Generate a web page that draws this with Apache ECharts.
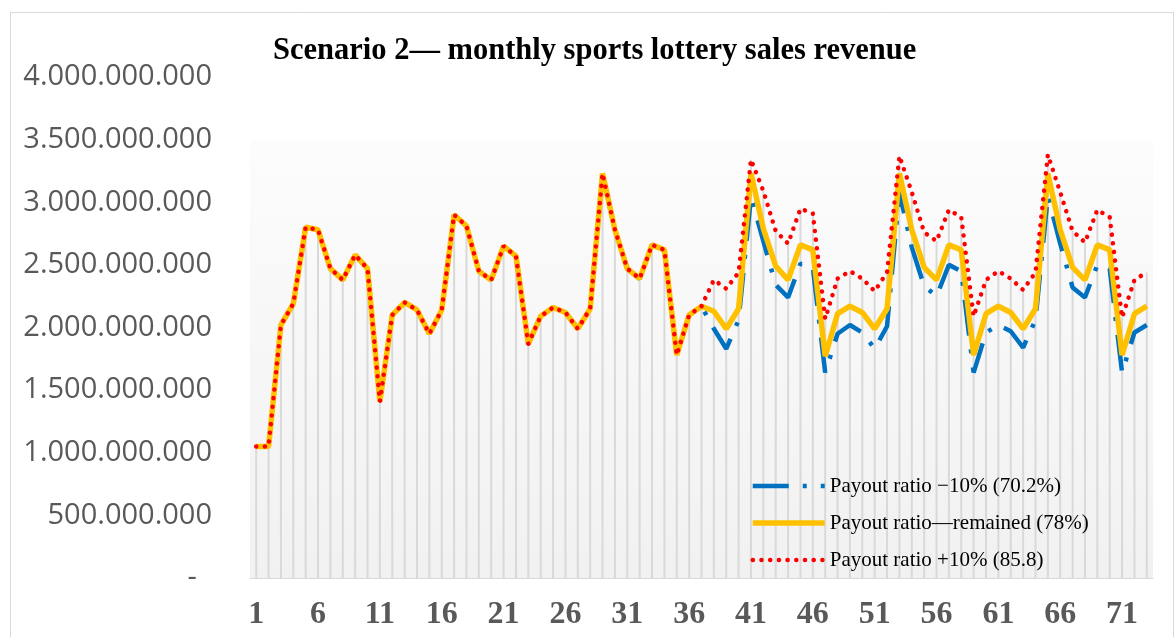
<!DOCTYPE html>
<html>
<head>
<meta charset="utf-8">
<title>Scenario 2 sales revenue</title>
<script src="https://cdn.jsdelivr.net/npm/echarts@6/dist/echarts.min.js"></script>
<style>
  html, body { margin: 0; padding: 0; background: #fff; }
  #chart { width: 1174px; height: 637px; }
</style>
</head>
<body>
<div id="chart"></div>
<script>
// month index 1..73
const months = Array.from({ length: 73 }, (_, i) => String(i + 1))

// values in billions; months 1-37 are shared by all three scenarios
const history = [1.05, 1.05, 2.02, 2.19, 2.80, 2.78, 2.47, 2.38, 2.58, 2.47,
  1.41, 2.10, 2.20, 2.14, 1.95, 2.14, 2.90, 2.81, 2.45, 2.38,
  2.65, 2.57, 1.87, 2.09, 2.16, 2.12, 1.99, 2.15, 3.23, 2.78,
  2.47, 2.39, 2.66, 2.62, 1.78, 2.10, 2.17]

// months 38-73
const ratioDown = [1.99, 1.83, 2.06, 3.04, 2.69, 2.34, 2.24, 2.51, 2.48, 1.64,
  1.95, 2.02, 1.96, 1.83, 2.01, 3.08, 2.64, 2.33, 2.25, 2.50,
  2.45, 1.64, 1.96, 2.02, 1.97, 1.84, 2.06, 3.05, 2.67, 2.32,
  2.24, 2.50, 2.47, 1.64, 1.96, 2.02]
const ratioSame = [2.13, 1.99, 2.15, 3.23, 2.79, 2.49, 2.38, 2.66, 2.62, 1.77,
  2.11, 2.17, 2.12, 1.99, 2.15, 3.23, 2.78, 2.48, 2.38, 2.66,
  2.62, 1.78, 2.11, 2.17, 2.12, 1.99, 2.15, 3.23, 2.78, 2.48,
  2.38, 2.66, 2.62, 1.78, 2.11, 2.17]
const ratioUp = [2.38, 2.31, 2.44, 3.34, 3.09, 2.77, 2.67, 2.95, 2.91, 2.07,
  2.39, 2.45, 2.39, 2.29, 2.44, 3.37, 3.08, 2.76, 2.69, 2.94,
  2.88, 2.09, 2.38, 2.45, 2.39, 2.30, 2.44, 3.38, 3.08, 2.77,
  2.68, 2.94, 2.88, 2.08, 2.38, 2.44]

const names = [
  'Payout ratio \u221210% (70.2%)',
  'Payout ratio\u2014remained (78%)',
  'Payout ratio +10% (85.8)'
]

const blueLine = { color: '#0070C0', width: 4.5, type: [36, 14, 4, 14], cap: 'butt' }
const yellowLine = { color: '#FFC000', width: 5.5, type: 'solid' }
const redLine = { color: '#FF0000', width: 4.5, type: [0.1, 8.6], cap: 'round' }

const chart = echarts.init(document.getElementById('chart'))

const fmtY = v => {
  if (v === 0) return '-  '
  return String(Math.round(v * 1e9)).replace(/\B(?=(\d{3})+(?!\d))/g, '.')
}

const option = {
  backgroundColor: '#fff',
  animation: false,
  title: {
    text: 'Scenario 2\u2014 monthly sports lottery sales revenue',
    left: 268,
    top: 31,
    textStyle: {
      fontFamily: 'Liberation Serif',
      fontWeight: 'bold',
      fontSize: 30.5,
      color: '#000'
    }
  },
  graphic: [{
    type: 'rect',
    left: 8,
    top: 10,
    shape: { width: 1163, height: 640 },
    style: { fill: 'none', stroke: '#d9d9d9', lineWidth: 1 },
    silent: true,
    z: -1
  }],
  legend: {
    data: [
      { name: names[0], itemStyle: { opacity: 0 }, lineStyle: blueLine },
      { name: names[1], itemStyle: { opacity: 0 }, lineStyle: yellowLine },
      { name: names[2], itemStyle: { opacity: 0 }, lineStyle: redLine }
    ],
    orient: 'vertical',
    left: 745,
    top: 470,
    itemWidth: 72,
    itemHeight: 14,
    itemGap: 15,
    textStyle: {
      fontFamily: 'Liberation Serif',
      fontSize: 21,
      color: '#000',
      lineHeight: 22
    }
  },
  grid: {
    left: 250,
    right: 21,
    top: 77,
    bottom: 59,
    show: true,
    borderWidth: 0,
    outerBoundsMode: 'none',
    backgroundColor: new echarts.graphic.LinearGradient(0, 0, 0, 1, [
      { offset: 0, color: '#ffffff' },
      { offset: 0.125, color: '#ffffff' },
      { offset: 0.127, color: '#fcfcfc' },
      { offset: 1, color: '#f1f1f1' }
    ])
  },
  xAxis: {
    type: 'category',
    data: months,
    boundaryGap: true,
    axisLine: { lineStyle: { color: '#d9d9d9', width: 1 } },
    axisTick: { show: false },
    axisLabel: {
      interval: 4,
      margin: 21,
      fontFamily: 'Liberation Serif',
      fontWeight: 'bold',
      fontSize: 32,
      color: '#595959'
    },
    splitLine: { show: false }
  },
  yAxis: {
    type: 'value',
    min: 0,
    max: 4,
    interval: 0.5,
    axisLine: { show: false },
    axisTick: { show: false },
    splitLine: { show: false },
    axisLabel: {
      margin: 38,
      fontFamily: 'Open Sans',
      fontSize: 29,
      color: '#595959',
      formatter: fmtY
    }
  },
  series: [
    {
      // drop lines down to the axis
      name: 'drop',
      type: 'bar',
      data: history.concat(ratioUp),
      barWidth: 2,
      itemStyle: { color: '#d9d9d9' },
      silent: true,
      z: 1
    },
    {
      name: names[0],
      type: 'line',
      data: history.concat(ratioDown),
      symbol: 'none',
      lineStyle: blueLine,
      itemStyle: { color: '#0070C0' },
      z: 3
    },
    {
      name: names[1],
      type: 'line',
      data: history.concat(ratioSame),
      symbol: 'none',
      lineStyle: yellowLine,
      itemStyle: { color: '#FFC000' },
      z: 4
    },
    {
      name: names[2],
      type: 'line',
      data: history.concat(ratioUp),
      symbol: 'none',
      lineStyle: redLine,
      itemStyle: { color: '#FF0000' },
      z: 5
    }
  ]
}

chart.setOption(option)
</script>
</body>
</html>
